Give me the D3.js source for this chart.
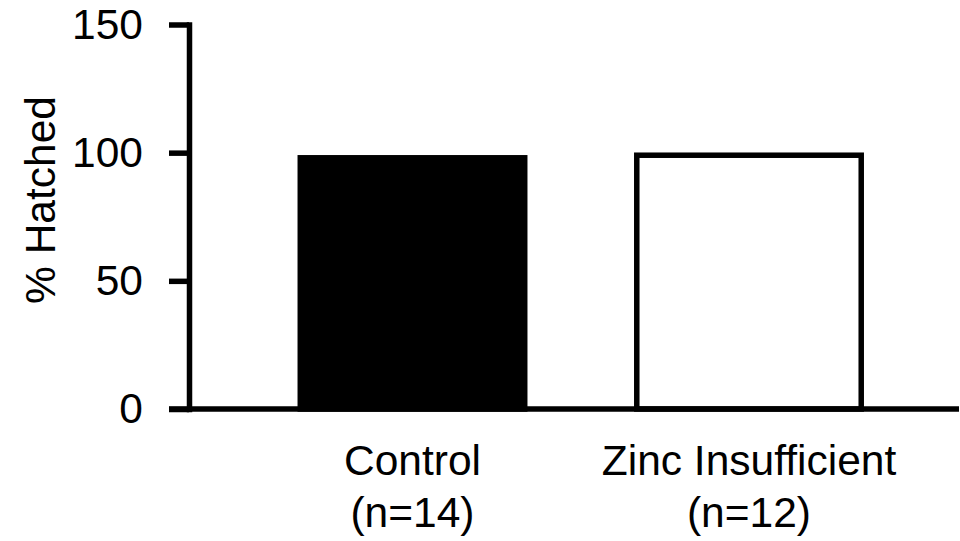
<!DOCTYPE html>
<html>
<head>
<meta charset="utf-8">
<script src="https://cdn.jsdelivr.net/npm/d3@7"></script>
<style>
  html, body { margin: 0; padding: 0; background: #fff; }
  svg { display: block; }
  text { font-family: "Liberation Sans", Arial, sans-serif; fill: #000; }
</style>
</head>
<body>
<svg id="chart" width="960" height="541"></svg>
<script>
const categories = ["Control", "Zinc Insufficient"];
const sampleLabels = ["(n=14)", "(n=12)"];
const values = [98, 99];
const fills = ["#000000", "#ffffff"];
const yTicks = [0, 50, 100, 150];
const yTitle = "% Hatched";

const svg = d3.select("#chart");
const SW = 5.5;
const fontSize = 42.5;

const y = d3.scaleLinear().domain([0, 150]).range([409, 24.5]);
const x = d3.scaleBand().domain(categories).range([244.25, 917.25])
  .paddingInner(0.333).paddingOuter(0.1665);
const axisX = 189;

// bars
svg.append("g").selectAll("rect").data(categories).join("rect")
  .attr("x", d => x(d))
  .attr("width", x.bandwidth())
  .attr("y", (d, i) => y(values[i]))
  .attr("height", (d, i) => y(0) - y(values[i]))
  .attr("fill", (d, i) => fills[i])
  .attr("stroke", "#000")
  .attr("stroke-width", SW);

// y axis
const yAxis = svg.append("g").attr("transform", `translate(${axisX},0)`)
  .call(d3.axisLeft(y).tickValues(yTicks).tickSize(20).tickSizeOuter(0).tickPadding(26));
yAxis.select(".domain").attr("stroke-width", SW).attr("stroke-linecap", "square");
yAxis.selectAll(".tick line").attr("stroke-width", SW);
yAxis.selectAll(".tick text").attr("font-size", fontSize)
  .style("font-family", "'Liberation Sans', Arial, sans-serif");

// x axis line
svg.append("line")
  .attr("x1", axisX - 20).attr("x2", 959)
  .attr("y1", y(0)).attr("y2", y(0))
  .attr("stroke", "#000").attr("stroke-width", SW);

// category labels
const lab = svg.append("g").selectAll("text").data(categories).join("text")
  .attr("text-anchor", "middle")
  .attr("font-size", fontSize)
  .attr("x", d => x(d) + x.bandwidth() / 2)
  .attr("y", 475);
lab.append("tspan").text(d => d);
lab.append("tspan")
  .attr("x", d => x(d) + x.bandwidth() / 2)
  .attr("dy", 52)
  .text((d, i) => sampleLabels[i]);

// y title
svg.append("text")
  .attr("transform", "translate(55,200) rotate(-90)")
  .attr("text-anchor", "middle")
  .attr("font-size", fontSize)
  .text(yTitle);
</script>
</body>
</html>
